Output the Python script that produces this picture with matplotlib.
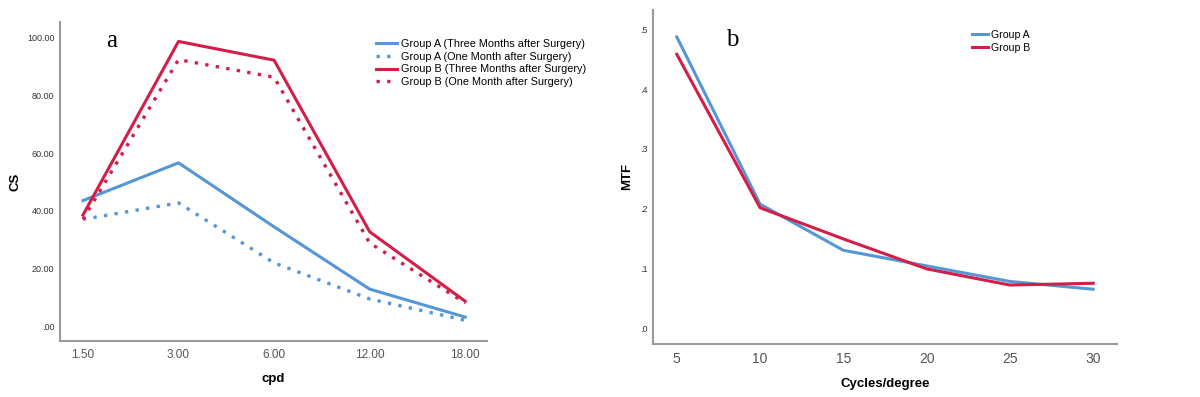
import numpy as np
import matplotlib
matplotlib.use("Agg")
import matplotlib.pyplot as plt

plt.rcParams['font.family'] = ['Liberation Sans', 'DejaVu Sans']

# panel a: contrast sensitivity
cpd_labels = ["1.50", "3.00", "6.00", "12.00", "18.00"]
a_three = [43.5, 56.6, 34.4, 12.8, 3.1]
a_one = [37.0, 42.7, 21.9, 9.4, 2.0]
b_three = [38.5, 98.7, 92.2, 32.7, 8.6]
b_one = [37.0, 92.4, 86.3, 28.8, 8.0]
cs_ticks = [0, 20, 40, 60, 80, 100]
cs_ticklabels = [".00", "20.00", "40.00", "60.00", "80.00", "100.00"]

# panel b: MTF
cycles = [5, 10, 15, 20, 25, 30]
mtf_a = [0.487, 0.208, 0.131, 0.105, 0.079, 0.066]
mtf_b = [0.458, 0.202, 0.150, 0.100, 0.073, 0.076]
mtf_ticks = [0.0, 0.1, 0.2, 0.3, 0.4, 0.5]
mtf_ticklabels = [".0", ".1", ".2", ".3", ".4", ".5"]

blue = '#5596d6'
red = '#d21e48'
grey = '#9a9a9a'

fig = plt.figure(figsize=(12, 3.97), dpi=100)
ax1 = fig.add_axes([0.05, 0.141, 0.356, 0.804])
ax2 = fig.add_axes([0.544, 0.134, 0.387, 0.841])

x = np.arange(len(cpd_labels))
ax1.plot(x, a_three, color=blue, lw=2.2, label='Group A (Three Months after Surgery)')
ax1.plot(x, a_one, color=blue, lw=2.4, ls=(0, (1, 2.2)), label='Group A (One Month after Surgery)')
ax1.plot(x, b_three, color=red, lw=2.2, label='Group B (Three Months after Surgery)')
ax1.plot(x, b_one, color=red, lw=2.4, ls=(0, (1, 2.2)), label='Group B (One Month after Surgery)')
ax1.set_xlim(-0.24, 4.23)
ax1.set_ylim(-5.2, 105.5)
ax1.set_xticks(x)
ax1.set_xticklabels(cpd_labels, fontsize=8.5, color='#555555')
ax1.set_yticks(cs_ticks)
ax1.set_yticklabels(cs_ticklabels, fontsize=6.5, color='#333333')
ax1.set_xlabel('cpd', fontsize=9.5, fontweight='bold')
ax1.set_ylabel('CS', fontsize=9.5, fontweight='bold')
ax1.xaxis.set_label_coords(0.5, -0.1)
ax1.yaxis.set_label_coords(-0.091, 0.5)
ax1.legend(loc='upper left', bbox_to_anchor=(0.73, 0.96), fontsize=7.8, frameon=False,
           handlelength=1.9, handletextpad=0.4, labelspacing=0.25, borderaxespad=0)
ax1.text(0.12, 0.94, 'a', transform=ax1.transAxes, fontsize=18, family='Liberation Serif',
         ha='center', va='center')

ax2.plot(cycles, mtf_a, color=blue, lw=2.2, label='Group A')
ax2.plot(cycles, mtf_b, color=red, lw=2.2, label='Group B')
ax2.set_xlim(3.56, 31.44)
ax2.set_ylim(-0.025, 0.532)
ax2.set_xticks(cycles)
ax2.set_xticklabels([str(c) for c in cycles], fontsize=10, color='#555555')
ax2.set_yticks(mtf_ticks)
ax2.set_yticklabels(mtf_ticklabels, fontsize=6.5, color='#333333')
ax2.set_xlabel('Cycles/degree', fontsize=9.5, fontweight='bold')
ax2.set_ylabel('MTF', fontsize=9.5, fontweight='bold')
ax2.xaxis.set_label_coords(0.5, -0.102)
ax2.yaxis.set_label_coords(-0.043, 0.5)
ax2.legend(loc='upper left', bbox_to_anchor=(0.678, 0.953), fontsize=7.6, frameon=False,
           handlelength=1.5, handletextpad=0.3, labelspacing=0.3, borderaxespad=0)
ax2.text(0.172, 0.91, 'b', transform=ax2.transAxes, fontsize=18, family='Liberation Serif',
         ha='center', va='center')

for ax in (ax1, ax2):
    for s in ('top', 'right'):
        ax.spines[s].set_visible(False)
    for s in ('left', 'bottom'):
        ax.spines[s].set_color(grey)
        ax.spines[s].set_linewidth(1.5)
    ax.tick_params(axis='x', length=0, pad=6)
    ax.tick_params(axis='y', length=0, pad=4)

fig.savefig('out.png', dpi=100)
